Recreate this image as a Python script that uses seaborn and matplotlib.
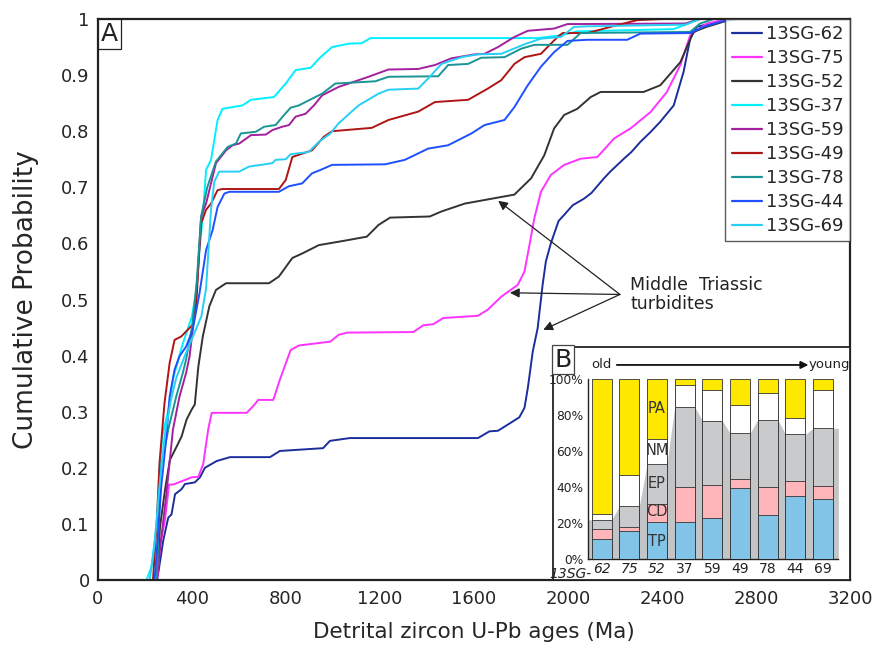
import matplotlib
matplotlib.use("Agg")
import matplotlib.pyplot as plt
import seaborn as sns
import pandas as pd
import numpy as np

sns.set_style("white")
plt.rcParams['font.family'] = ['DejaVu Sans']

# ---- panel A: cumulative age curves ----
samples = ["13SG-62", "13SG-75", "13SG-52", "13SG-37", "13SG-59",
           "13SG-49", "13SG-78", "13SG-44", "13SG-69"]
line_colors = ["#1b2e9c", "#ff33ff", "#333333", "#00f0ff", "#a3209e",
               "#b01515", "#1a9494", "#1e50ff", "#26d0f5"]

age_62 = [0, 252, 278, 299, 313, 328, 356, 370, 412, 434, 455, 505, 562, 732, 774, 958, 987, 1072, 1617, 1666,
          1702, 1744, 1793, 1815, 1829, 1850, 1871, 1892, 1906, 1927, 1960, 1984, 2020, 2069, 2100, 2153, 2180,
          2238, 2270, 2308, 2350, 2393, 2450, 2492, 2520, 2548, 2633, 2700, 3200]
cum_62 = [0, 0, 0.071, 0.111, 0.117, 0.153, 0.162, 0.171, 0.174, 0.183, 0.200, 0.212, 0.219, 0.219, 0.230, 0.235,
          0.248, 0.253, 0.253, 0.265, 0.266, 0.277, 0.290, 0.307, 0.342, 0.407, 0.449, 0.526, 0.568, 0.600, 0.640,
          0.651, 0.668, 0.680, 0.690, 0.716, 0.728, 0.751, 0.763, 0.781, 0.798, 0.817, 0.846, 0.906, 0.965, 0.986,
          0.995, 1.0, 1.0]

age_75 = [0, 252, 264, 285, 299, 302, 319, 399, 427, 448, 469, 484, 633, 665, 682, 746, 774, 820, 855, 989,
          1024, 1060, 1342, 1384, 1427, 1469, 1617, 1659, 1716, 1786, 1815, 1836, 1857, 1885, 1927, 1984, 2054,
          2125, 2196, 2266, 2351, 2421, 2478, 2520, 2590, 2680, 3200]
cum_75 = [0, 0, 0.06, 0.107, 0.157, 0.170, 0.170, 0.183, 0.184, 0.207, 0.268, 0.298, 0.298, 0.312, 0.321, 0.321,
          0.357, 0.410, 0.418, 0.425, 0.437, 0.441, 0.442, 0.454, 0.456, 0.467, 0.471, 0.482, 0.505, 0.526, 0.550,
          0.597, 0.645, 0.692, 0.722, 0.740, 0.751, 0.754, 0.787, 0.805, 0.834, 0.870, 0.918, 0.971, 0.992, 1.0, 1.0]

age_52 = [0, 250, 264, 285, 306, 335, 356, 377, 399, 412, 427, 446, 474, 502, 545, 728, 770, 827, 869, 940,
          1038, 1144, 1194, 1243, 1412, 1462, 1561, 1772, 1843, 1899, 1941, 1984, 2040, 2097, 2139, 2322, 2393,
          2478, 2534, 2590, 2700, 3200]
cum_52 = [0, 0, 0.095, 0.16, 0.214, 0.238, 0.256, 0.286, 0.304, 0.313, 0.38, 0.434, 0.488, 0.517, 0.529, 0.529,
          0.541, 0.574, 0.582, 0.597, 0.604, 0.612, 0.633, 0.646, 0.648, 0.657, 0.671, 0.687, 0.716, 0.757, 0.805,
          0.829, 0.840, 0.861, 0.870, 0.870, 0.882, 0.923, 0.977, 0.986, 1.0, 1.0]

age_37 = [0, 207, 228, 250, 262, 275, 298, 320, 360, 400, 420, 432, 446, 460, 481, 509, 530, 615, 651, 749,
          799, 841, 905, 947, 996, 1067, 1123, 1159, 1871, 1970, 2040, 2450, 2560, 3200]
cum_37 = [0, 0, 0.024, 0.10, 0.2, 0.26, 0.30, 0.36, 0.42, 0.47, 0.52, 0.588, 0.648, 0.731, 0.749, 0.820, 0.840,
          0.846, 0.856, 0.861, 0.885, 0.909, 0.913, 0.932, 0.950, 0.956, 0.957, 0.966, 0.966, 0.971, 0.978, 0.982,
          1.0, 1.0]

age_59 = [0, 250, 262, 290, 319, 347, 375, 390, 411, 425, 439, 460, 502, 545, 573, 601, 651, 714, 742, 784,
          813, 841, 883, 919, 954, 1024, 1067, 1151, 1236, 1363, 1434, 1504, 1603, 1645, 1702, 1772, 1829, 1941,
          1998, 2500, 2560, 3200]
cum_59 = [0, 0, 0.049, 0.149, 0.268, 0.327, 0.369, 0.399, 0.476, 0.55, 0.648, 0.671, 0.743, 0.766, 0.775, 0.778,
          0.793, 0.794, 0.802, 0.808, 0.811, 0.826, 0.831, 0.846, 0.864, 0.879, 0.885, 0.897, 0.910, 0.911, 0.918,
          0.930, 0.937, 0.938, 0.950, 0.968, 0.979, 0.983, 0.991, 0.992, 1.0, 1.0]

age_49 = [0, 234, 250, 262, 283, 305, 326, 354, 382, 403, 418, 430, 439, 460, 481, 509, 530, 770, 799, 827,
          869, 911, 961, 996, 1165, 1236, 1363, 1434, 1575, 1659, 1716, 1772, 1815, 1885, 1927, 1956, 1977, 2083,
          2181, 2294, 2400, 3200]
cum_49 = [0, 0, 0.1, 0.209, 0.315, 0.387, 0.428, 0.434, 0.446, 0.455, 0.488, 0.58, 0.636, 0.66, 0.671, 0.695,
          0.697, 0.697, 0.713, 0.754, 0.760, 0.766, 0.790, 0.800, 0.806, 0.820, 0.835, 0.852, 0.856, 0.876, 0.891,
          0.920, 0.932, 0.938, 0.956, 0.968, 0.975, 0.975, 0.986, 0.998, 1.0, 1.0]

age_78 = [0, 250, 268, 300, 333, 361, 375, 400, 420, 439, 465, 502, 552, 587, 608, 672, 707, 756, 792, 820,
          855, 897, 954, 1010, 1180, 1236, 1448, 1490, 1575, 1631, 1730, 1800, 1857, 1998, 2054, 2520, 2562, 2620,
          3200]
cum_78 = [0, 0, 0.2, 0.27, 0.327, 0.369, 0.393, 0.45, 0.53, 0.648, 0.70, 0.746, 0.772, 0.778, 0.796, 0.799,
          0.808, 0.811, 0.829, 0.842, 0.846, 0.855, 0.867, 0.885, 0.889, 0.897, 0.898, 0.918, 0.920, 0.931, 0.932,
          0.947, 0.954, 0.954, 0.975, 0.977, 0.992, 1.0, 1.0]

age_44 = [0, 241, 255, 270, 290, 305, 326, 347, 375, 403, 432, 460, 488, 509, 538, 559, 770, 813, 869, 911,
          947, 996, 1222, 1306, 1405, 1490, 1589, 1645, 1730, 1772, 1829, 1885, 1941, 1998, 2083, 2252, 2308,
          2520, 2576, 2647, 2720, 3200]
cum_44 = [0, 0, 0.08, 0.17, 0.25, 0.327, 0.375, 0.399, 0.416, 0.446, 0.511, 0.588, 0.624, 0.665, 0.689, 0.692,
          0.692, 0.702, 0.707, 0.725, 0.731, 0.740, 0.741, 0.749, 0.769, 0.775, 0.796, 0.811, 0.820, 0.843, 0.882,
          0.915, 0.941, 0.961, 0.963, 0.963, 0.974, 0.975, 0.986, 0.995, 1.0, 1.0]

age_69 = [0, 220, 240, 260, 285, 310, 333, 370, 400, 440, 460, 472, 481, 495, 516, 601, 643, 742, 756, 799,
          820, 897, 940, 989, 1024, 1109, 1194, 1236, 1363, 1405, 1462, 1547, 1617, 1716, 1815, 1885, 1970, 2026,
          2083, 2500, 2560, 3200]
cum_69 = [0, 0, 0.06, 0.16, 0.26, 0.32, 0.36, 0.40, 0.43, 0.47, 0.52, 0.60, 0.66, 0.71, 0.728, 0.728, 0.737,
          0.743, 0.749, 0.750, 0.759, 0.763, 0.781, 0.796, 0.814, 0.846, 0.867, 0.874, 0.876, 0.894, 0.920, 0.932,
          0.937, 0.938, 0.955, 0.965, 0.968, 0.986, 0.987, 0.990, 1.0, 1.0]

x_ticks = [0, 400, 800, 1200, 1600, 2000, 2400, 2800, 3200]
y_ticks = [0, 0.1, 0.2, 0.3, 0.4, 0.5, 0.6, 0.7, 0.8, 0.9, 1.0]
y_tick_labels = ["0", "0.1", "0.2", "0.3", "0.4", "0.5", "0.6", "0.7", "0.8", "0.9", "1"]

# arrows of the annotation (age, probability)
note_from = (2221, 0.509)
note_targets = [(1703, 0.676), (1753, 0.512), (1895, 0.446)]

# ---- panel B: provenance proportions (%) ----
bar_labels = ["62", "75", "52", "37", "59", "49", "78", "44", "69"]
tp = [11.1, 15.6, 20.9, 20.6, 22.8, 39.4, 24.4, 35.0, 33.3]
cd = [5.9, 2.5, 9.7, 19.4, 18.3, 5.0, 16.0, 8.3, 7.3]
ep = [4.9, 11.3, 22.2, 44.8, 35.8, 25.6, 37.2, 26.1, 32.2]
nm = [3.5, 17.3, 14.2, 11.9, 17.0, 15.6, 14.6, 9.3, 21.1]
pa = [74.6, 53.3, 33.0, 3.3, 6.1, 14.4, 7.8, 21.3, 6.1]
band_names = ["TP", "CD", "EP", "NM", "PA"]
band_colors = ["#82c3e8", "#ffb6bb", "#c9cacc", "#ffffff", "#ffe800"]

curves = {
    "13SG-62": (age_62, cum_62), "13SG-75": (age_75, cum_75), "13SG-52": (age_52, cum_52),
    "13SG-37": (age_37, cum_37), "13SG-59": (age_59, cum_59), "13SG-49": (age_49, cum_49),
    "13SG-78": (age_78, cum_78), "13SG-44": (age_44, cum_44), "13SG-69": (age_69, cum_69),
}
df = pd.concat([pd.DataFrame({"age": a, "prob": p, "sample": s}) for s, (a, p) in curves.items()],
               ignore_index=True)

fig = plt.figure(figsize=(8.81, 6.45), dpi=100)
ax = fig.add_axes([0.1112, 0.1008, 0.8536, 0.8697])

sns.lineplot(data=df, x="age", y="prob", hue="sample", hue_order=samples,
             palette=dict(zip(samples, line_colors)), sort=False, estimator=None,
             linewidth=1.4, ax=ax)

ax.set_xlim(0, 3200)
ax.set_ylim(0, 1)
ax.set_xticks(x_ticks)
ax.set_yticks(y_ticks)
ax.set_yticklabels(y_tick_labels)
ax.tick_params(direction="in", length=5, width=1, labelsize=13, color="#222222")
ax.tick_params(axis="x", pad=7)
ax.tick_params(axis="y", pad=6)
for sp in ax.spines.values():
    sp.set_color("#222222")
    sp.set_linewidth(1.6)
ax.set_xlabel("Detrital zircon U-Pb ages (Ma)", fontsize=15.5, labelpad=10)
ax.set_ylabel("Cumulative Probability", fontsize=19, labelpad=16)

handles, labels = ax.get_legend_handles_labels()
leg = ax.legend(handles, labels, loc="upper right", borderaxespad=0, frameon=True, fancybox=False,
                edgecolor="#333333", fontsize=13, handlelength=1.7, handletextpad=0.2,
                labelspacing=0.33, borderpad=0.35)
leg.get_frame().set_linewidth(1.0)
for h in leg.get_lines():
    h.set_linewidth(1.6)

ax.text(0.004, 0.994, "A", transform=ax.transAxes, ha="left", va="top", fontsize=18, color="#222222",
        bbox=dict(boxstyle="square,pad=0.12", fc="white", ec="#222222", lw=0.9))

for tgt in note_targets:
    ax.annotate("", xy=tgt, xytext=note_from,
                arrowprops=dict(arrowstyle="-|>", color="#222222", lw=0.9, mutation_scale=14,
                                shrinkA=0, shrinkB=0))
ax.text(2264, 0.509, "Middle  Triassic\nturbidites", ha="left", va="center", fontsize=12.5,
        color="#222222", linespacing=1.05)

# ---- inset B ----
axo = fig.add_axes([0.6277, 0.1008, 0.3371, 0.3612])
axo.set_facecolor("white")
axo.set_xticks([])
axo.set_yticks([])
for sp in axo.spines.values():
    sp.set_color("#222222")
    sp.set_linewidth(1.3)
axo.set_xlim(0, 1)
axo.set_ylim(0, 1)
axo.text(0.004, 0.996, "B", transform=axo.transAxes, ha="left", va="top", fontsize=18, color="#222222",
         bbox=dict(boxstyle="square,pad=0.1", fc="white", ec="#444444", lw=0.9))
axo.text(0.128, 0.923, "old", ha="left", va="center", fontsize=9.5, color="#222222")
axo.annotate("", xy=(0.86, 0.923), xytext=(0.215, 0.923),
             arrowprops=dict(arrowstyle="-|>", color="#111111", lw=1.3, mutation_scale=11,
                             shrinkA=0, shrinkB=0))
axo.text(0.862, 0.923, "young", ha="left", va="center", fontsize=9.5, color="#222222")

axb = fig.add_axes([0.6678, 0.1329, 0.2838, 0.2791])
axb.set_facecolor("none")
bands = np.array([tp, cd, ep, nm, pa])
tops = np.cumsum(bands, axis=0)
bw = 0.72
xl, xr = -0.48, 8.55

# grey band joining the EP tops between bars
xs, ys = [xl], [tops[2][0]]
for i, v in enumerate(tops[2]):
    xs += [i - bw / 2, i + bw / 2]
    ys += [v, v]
xs.append(xr)
ys.append(tops[2][-1])
axb.fill_between(xs, 0, ys, color="#c3c4c6", lw=0, zorder=0.5)

for k in range(4, -1, -1):
    sns.barplot(x=bar_labels, y=tops[k], order=bar_labels, color=band_colors[k], saturation=1,
                width=bw, edgecolor="#333333", linewidth=0.6, ax=axb, zorder=1 + (4 - k))

axb.set_xlim(xl, xr)
axb.set_ylim(0, 100)
axb.set_yticks([0, 20, 40, 60, 80, 100])
axb.set_yticklabels(["0%", "20%", "40%", "60%", "80%", "100%"])
axb.set_xticks(range(len(bar_labels)))
axb.set_xticklabels(bar_labels)
for i, t in enumerate(axb.get_xticklabels()):
    if i < 3:
        t.set_fontstyle("italic")
axb.set_xticks(np.arange(len(bar_labels) - 1) + 0.5, minor=True)
axb.tick_params(axis="x", which="major", length=0, labelsize=10, pad=2, colors="#222222")
axb.tick_params(axis="x", which="minor", length=3, direction="out", color="#555555")
axb.tick_params(axis="y", length=3, direction="out", labelsize=8.8, pad=0.8, colors="#222222")
axb.set_xlabel("")
axb.set_ylabel("")
for s in ["top", "right"]:
    axb.spines[s].set_visible(False)
for s in ["left", "bottom"]:
    axb.spines[s].set_color("#222222")
    axb.spines[s].set_linewidth(1.0)
axb.text(-0.38, -0.082, "13SG-", transform=axb.get_xaxis_transform(), ha="right", va="center",
         fontsize=10, fontstyle="italic", color="#222222")

band_y = [10, 26.5, 42.2, 60.7, 83.9]
for name, yv in zip(band_names, band_y):
    axb.text(2, yv, name, ha="center", va="center", fontsize=10.5, color="#333333", zorder=10)

fig.savefig("out.png", dpi=100)
